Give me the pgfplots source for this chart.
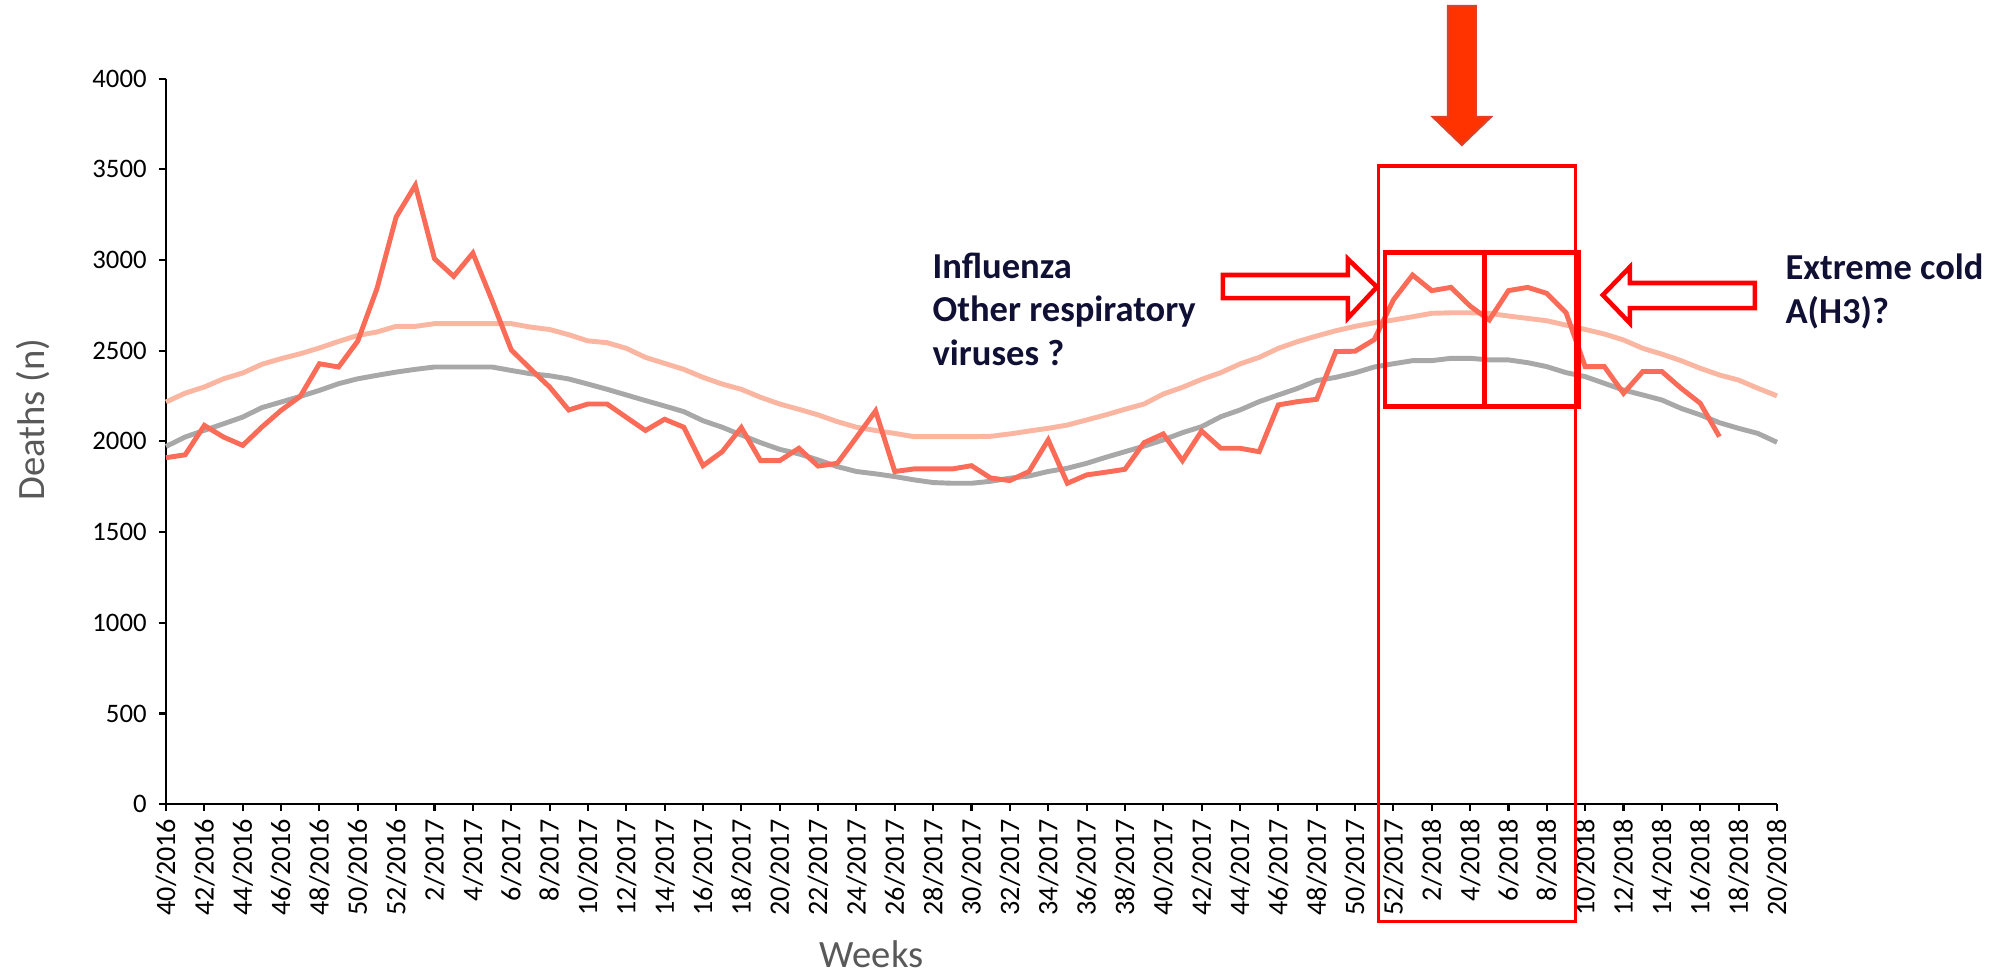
\documentclass[border=0pt]{standalone}
\usepackage{fontspec}
\setmainfont{Carlito}
\usepackage{pgfplots}
\pgfplotsset{compat=1.18}

\definecolor{obs}{RGB}{250,108,88}
\definecolor{upper}{RGB}{250,182,160}
\definecolor{base}{RGB}{168,168,168}
\definecolor{navy}{RGB}{16,16,52}
\definecolor{lab}{RGB}{89,89,89}
\definecolor{bigarrow}{RGB}{255,51,0}
\definecolor{bigedge}{RGB}{224,64,40}

\begin{document}
\begin{tikzpicture}
\useasboundingbox (0,0) rectangle (20.02cm,9.74cm);
\begin{axis}[
  at={(1.66cm,1.698cm)}, anchor=south west,
  scale only axis,
  width=16.11cm, height=7.256cm,
  xmin=0, xmax=84, ymin=0, ymax=4000,
  axis x line=bottom, axis y line=left,
  axis line style={-, line width=0.6pt, black},
  clip=false,
  xtick={0,2,...,84},
  xticklabels={40/2016,42/2016,44/2016,46/2016,48/2016,50/2016,52/2016,
    2/2017,4/2017,6/2017,8/2017,10/2017,12/2017,14/2017,16/2017,18/2017,20/2017,
    22/2017,24/2017,26/2017,28/2017,30/2017,32/2017,34/2017,36/2017,38/2017,
    40/2017,42/2017,44/2017,46/2017,48/2017,50/2017,52/2017,
    2/2018,4/2018,6/2018,8/2018,10/2018,12/2018,14/2018,16/2018,18/2018,20/2018},
  ytick={0,500,...,4000},
  tick align=outside,
  major tick length=0.07cm,
  tick style={line width=0.6pt, black},
  xticklabel style={rotate=90, anchor=east, font=\fontsize{8}{9}\selectfont, inner sep=2pt},
  yticklabel style={font=\fontsize{7.6}{9}\selectfont},
  /pgf/number format/assume math mode=true,
  /pgf/number format/1000 sep={},
  xlabel={Weeks},
  ylabel={Deaths (n)},
  xlabel style={at={(axis description cs:0.438,-0.207)}, anchor=center, font=\fontsize{11}{13}\selectfont, text=lab},
  ylabel style={at={(axis description cs:-0.0826,0.53)}, anchor=center, font=\fontsize{11}{13}\selectfont, text=lab},
]
% upper threshold
\addplot[upper, line width=1.4pt, no marks] coordinates {
(0,2217) (1,2266) (2,2300) (3,2345) (4,2377) (5,2425) (6,2456) (7,2483) (8,2515) (9,2551)
(10,2584) (11,2603) (12,2634) (13,2634) (14,2649) (15,2649) (16,2649) (17,2649) (18,2649) (19,2630)
(20,2617) (21,2588) (22,2554) (23,2544) (24,2513) (25,2463) (26,2430) (27,2397) (28,2353) (29,2316)
(30,2287) (31,2243) (32,2206) (33,2177) (34,2146) (35,2109) (36,2078) (37,2060) (38,2044) (39,2026)
(40,2026) (41,2026) (42,2026) (43,2028) (44,2041) (45,2057) (46,2072) (47,2090) (48,2118) (49,2146)
(50,2177) (51,2206) (52,2261) (53,2298) (54,2342) (55,2379) (56,2427) (57,2463) (58,2513) (59,2550)
(60,2581) (61,2610) (62,2634) (63,2654) (64,2669) (65,2687) (66,2706) (67,2709) (68,2709) (69,2706)
(70,2691) (71,2678) (72,2665) (73,2641) (74,2617) (75,2592) (76,2559) (77,2513) (78,2481) (79,2445)
(80,2403) (81,2366) (82,2338) (83,2293) (84,2251)
};
% baseline
\addplot[base, line width=1.4pt, no marks] coordinates {
(0,1972) (1,2024) (2,2061) (3,2097) (4,2134) (5,2186) (6,2217) (7,2248) (8,2281) (9,2318)
(10,2345) (11,2364) (12,2382) (13,2397) (14,2410) (15,2410) (16,2410) (17,2410) (18,2391) (19,2373)
(20,2362) (21,2344) (22,2316) (23,2287) (24,2256) (25,2225) (26,2195) (27,2164) (28,2114) (29,2078)
(30,2035) (31,1993) (32,1956) (33,1931) (34,1898) (35,1861) (36,1834) (37,1821) (38,1806) (39,1788)
(40,1773) (41,1769) (42,1769) (43,1780) (44,1797) (45,1809) (46,1834) (47,1852) (48,1879) (49,1912)
(50,1943) (51,1974) (52,2008) (53,2048) (54,2081) (55,2136) (56,2173) (57,2219) (58,2256) (59,2292)
(60,2335) (61,2353) (62,2378) (63,2410) (64,2428) (65,2445) (66,2445) (67,2458) (68,2458) (69,2449)
(70,2449) (71,2434) (72,2412) (73,2379) (74,2357) (75,2320) (76,2283) (77,2256) (78,2228) (79,2182)
(80,2146) (81,2103) (82,2072) (83,2044) (84,1995)
};
% observed deaths
\addplot[obs, line width=1.4pt, no marks] coordinates {
(0,1910) (1,1926) (2,2088) (3,2024) (4,1978) (5,2079) (6,2171) (7,2248) (8,2428) (9,2410)
(10,2553) (11,2842) (12,3237) (13,3412) (14,3007) (15,2910) (16,3038) (17,2777) (18,2505) (19,2400)
(20,2300) (21,2173) (22,2206) (23,2206) (24,2133) (25,2060) (26,2122) (27,2078) (28,1866) (29,1943)
(30,2076) (31,1894) (32,1894) (33,1962) (34,1864) (35,1879) (36,2022) (37,2168) (38,1834) (39,1848)
(40,1848) (41,1848) (42,1866) (43,1798) (44,1784) (45,1834) (46,2008) (47,1769) (48,1815) (49,1830)
(50,1846) (51,1993) (52,2041) (53,1894) (54,2057) (55,1962) (56,1962) (57,1943) (58,2201) (59,2219)
(60,2232) (61,2495) (62,2497) (63,2561) (64,2780) (65,2917) (66,2831) (67,2849) (68,2746) (69,2669)
(70,2831) (71,2849) (72,2816) (73,2710) (74,2412) (75,2412) (76,2265) (77,2385) (78,2385) (79,2293)
(80,2210) (81,2026)
};

% highlight boxes
\draw[red, line width=0.9pt] (axis cs:63.24,-649) rectangle (axis cs:73.51,3518);
\draw[red, line width=1.4pt] (axis cs:63.56,2190) rectangle (axis cs:73.67,3039);
\draw[red, line width=1.4pt] (axis cs:68.77,2190) -- (axis cs:68.77,3039);
% big arrow
\draw[bigedge, fill=bigarrow, line width=0.6pt] (axis cs:66.84,4400) -- (axis cs:68.30,4400)
  -- (axis cs:68.30,3788) -- (axis cs:69.08,3788) -- (axis cs:67.57,3634)
  -- (axis cs:66.06,3788) -- (axis cs:66.84,3788) -- cycle;
% left arrow
\draw[red, fill=white, line width=1.3pt] (axis cs:55.11,2917) -- (axis cs:61.63,2917)
  -- (axis cs:61.63,3005) -- (axis cs:63.14,2851) -- (axis cs:61.63,2680)
  -- (axis cs:61.63,2790) -- (axis cs:55.11,2790) -- cycle;
% right arrow
\draw[red, fill=white, line width=1.3pt] (axis cs:82.85,2873) -- (axis cs:76.33,2873)
  -- (axis cs:76.33,2961) -- (axis cs:74.92,2807) -- (axis cs:76.33,2652)
  -- (axis cs:76.33,2735) -- (axis cs:82.85,2735) -- cycle;
% annotations
\begin{scope}[every node/.style={anchor=base west, inner sep=0pt, text=navy, font=\fontsize{10.4}{12}\selectfont\bfseries}]
\node at (axis cs:39.94,2899) {Influenza};
\node at (axis cs:39.94,2660) {Other respiratory};
\node at (axis cs:39.94,2421) {viruses ?};
\node at (axis cs:84.41,2890) {Extreme cold};
\node at (axis cs:84.41,2652) {A(H3)?};
\end{scope}
\end{axis}
\end{tikzpicture}
\end{document}
